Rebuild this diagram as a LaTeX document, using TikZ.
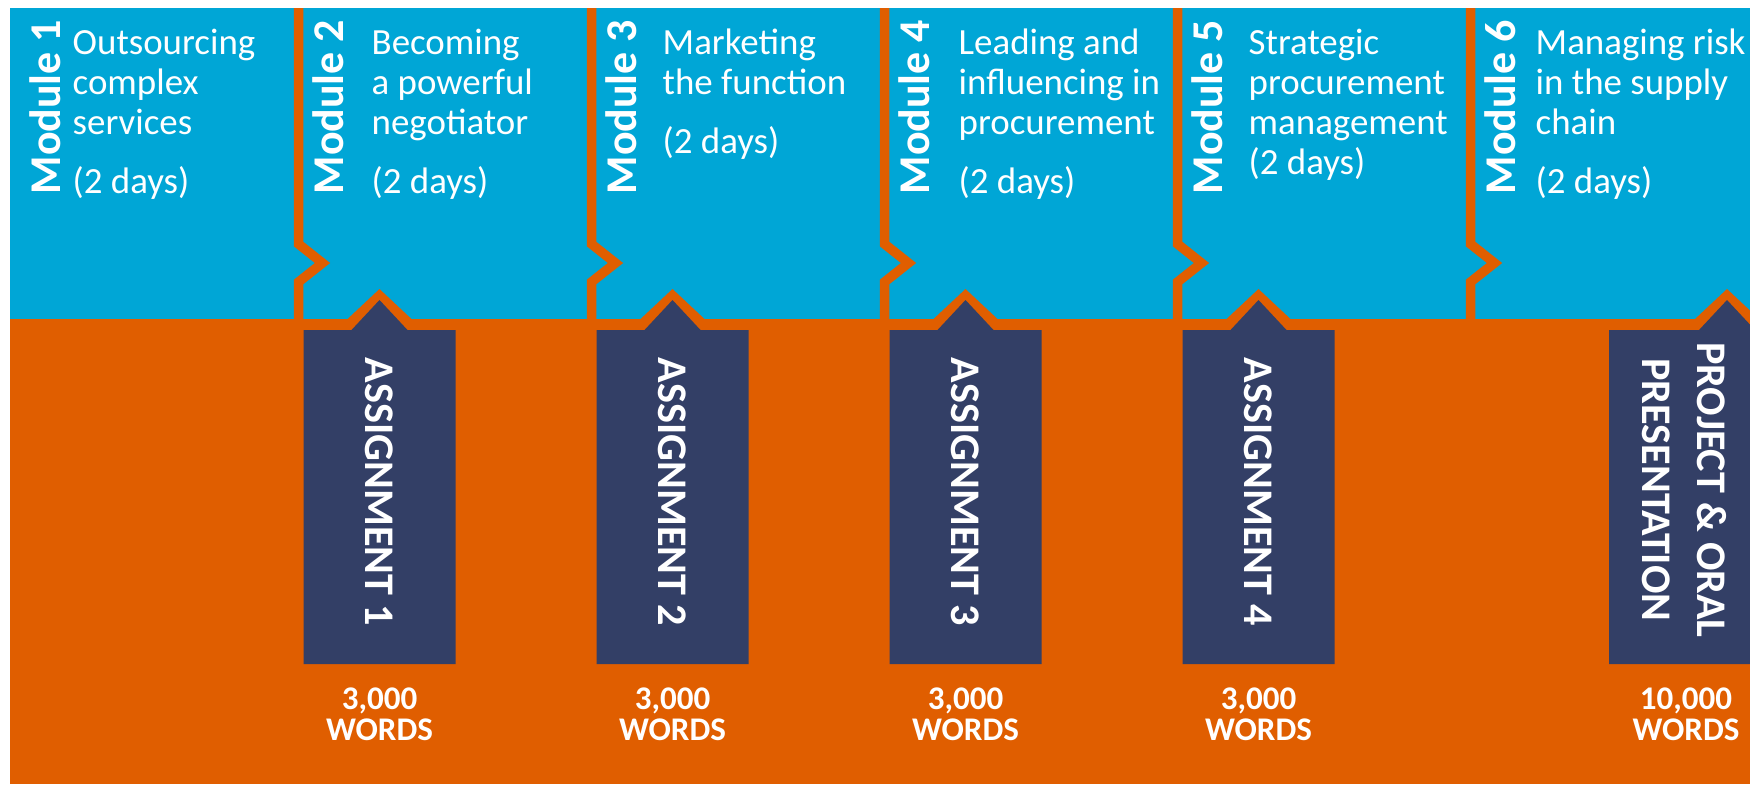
\documentclass[tikz,border=0pt]{standalone}
\usepackage{fontspec}
\setmainfont{Carlito}
\definecolor{modblue}{HTML}{00A6D6}
\definecolor{modorange}{HTML}{E05E00}
\definecolor{asgnavy}{HTML}{333F66}

\begin{document}
\begin{tikzpicture}[
    modlabel/.style={rotate=90, anchor=west, inner sep=0, text=white,
      font=\fontsize{12.5}{14}\selectfont\bfseries},
    modtext/.style={anchor=north west, inner sep=0, align=left, text=white,
      font=\fontsize{10.5}{11.4}\selectfont},
    asglabel/.style={rotate=-90, inner sep=0, align=center, text=white,
      font=\fontsize{12}{15.6}\selectfont\bfseries},
    words/.style={inner sep=0, align=center, text=white,
      font=\fontsize{9.4}{8.8}\selectfont\bfseries},
    divider/.style={modorange, line width=2.7pt, line join=miter}
  ]
  \useasboundingbox (0,0) rectangle (17.5,7.84);
  \clip (0,0) rectangle (17.5,7.84);

  % Bands
  \fill[modblue] (0.10,4.65) rectangle (17.5,7.76);
  \fill[modorange] (0.10,0) rectangle (17.5,4.65);

  % Dividers (notched)
  \draw[divider] (2.985,7.76) -- ++(0,-2.36) -- ++(0.24,-0.19) -- ++(-0.24,-0.19) -- (2.985,4.65);
  \draw[divider] (5.915,7.76) -- ++(0,-2.36) -- ++(0.24,-0.19) -- ++(-0.24,-0.19) -- (5.915,4.65);
  \draw[divider] (8.845,7.76) -- ++(0,-2.36) -- ++(0.24,-0.19) -- ++(-0.24,-0.19) -- (8.845,4.65);
  \draw[divider] (11.775,7.76) -- ++(0,-2.36) -- ++(0.24,-0.19) -- ++(-0.24,-0.19) -- (11.775,4.65);
  \draw[divider] (14.705,7.76) -- ++(0,-2.36) -- ++(0.24,-0.19) -- ++(-0.24,-0.19) -- (14.705,4.65);

  % Modules
  \node[modlabel] (m1) at (0.45,5.89) {Module 1};
  \node[modtext] (t1) at (0.72,7.56) {Outsourcing\\complex\\services\\[5.4pt](2 days)};
  \node[modlabel] (m2) at (3.285,5.89) {Module 2};
  \node[modtext] (t2) at (3.71,7.56) {Becoming\\a powerful\\negotiator\\[5.4pt](2 days)};
  \node[modlabel] (m3) at (6.215,5.89) {Module 3};
  \node[modtext] (t3) at (6.62,7.56) {Marketing\\the function\\[5.4pt](2 days)};
  \node[modlabel] (m4) at (9.145,5.89) {Module 4};
  \node[modtext] (t4) at (9.58,7.56) {Leading and\\influencing in\\procurement\\[5.4pt](2 days)};
  \node[modlabel] (m5) at (12.075,5.89) {Module 5};
  \node[modtext] (t5) at (12.48,7.56) {Strategic\\procurement\\management\\(2 days)};
  \node[modlabel] (m6) at (15.005,5.89) {Module 6};
  \node[modtext] (t6) at (15.35,7.56) {Managing risk\\in the supply\\chain\\[5.4pt](2 days)};

  % Assignments (boxes with roof)
  \fill[modorange] (3.475,4.65) -- ++(0.32,0.30) -- ++(0.32,-0.30) -- cycle;
  \fill[asgnavy] (3.035,1.20) -- ++(0,3.34) -- ++(0.48,0) -- ++(0.28,0.30) -- ++(0.28,-0.30) -- ++(0.48,0) -- ++(0,-3.34) -- cycle;
  \node[asglabel] (a1) at (3.795,2.92) {ASSIGNMENT 1};
  \node[words] (w1) at (3.795,0.695) {3,000\\WORDS};

  \fill[modorange] (6.405,4.65) -- ++(0.32,0.30) -- ++(0.32,-0.30) -- cycle;
  \fill[asgnavy] (5.965,1.20) -- ++(0,3.34) -- ++(0.48,0) -- ++(0.28,0.30) -- ++(0.28,-0.30) -- ++(0.48,0) -- ++(0,-3.34) -- cycle;
  \node[asglabel] (a2) at (6.725,2.92) {ASSIGNMENT 2};
  \node[words] (w2) at (6.725,0.695) {3,000\\WORDS};

  \fill[modorange] (9.335,4.65) -- ++(0.32,0.30) -- ++(0.32,-0.30) -- cycle;
  \fill[asgnavy] (8.895,1.20) -- ++(0,3.34) -- ++(0.48,0) -- ++(0.28,0.30) -- ++(0.28,-0.30) -- ++(0.48,0) -- ++(0,-3.34) -- cycle;
  \node[asglabel] (a3) at (9.655,2.92) {ASSIGNMENT 3};
  \node[words] (w3) at (9.655,0.695) {3,000\\WORDS};

  \fill[modorange] (12.265,4.65) -- ++(0.32,0.30) -- ++(0.32,-0.30) -- cycle;
  \fill[asgnavy] (11.825,1.20) -- ++(0,3.34) -- ++(0.48,0) -- ++(0.28,0.30) -- ++(0.28,-0.30) -- ++(0.48,0) -- ++(0,-3.34) -- cycle;
  \node[asglabel] (a4) at (12.585,2.92) {ASSIGNMENT 4};
  \node[words] (w4) at (12.585,0.695) {3,000\\WORDS};

  % Project (runs off the right edge)
  \fill[modorange] (16.95,4.65) -- ++(0.32,0.30) -- ++(0.32,-0.30) -- cycle;
  \fill[asgnavy] (16.09,1.20) -- ++(0,3.34) -- ++(0.90,0) -- ++(0.28,0.30) -- ++(0.28,-0.30) -- ++(1.0,0) -- ++(0,-3.34) -- cycle;
  \node[asglabel] (proj) at (16.84,2.94) {PROJECT \& ORAL\\PRESENTATION};
  \node[words] (w5) at (16.86,0.695) {10,000\\WORDS};
\end{tikzpicture}
\end{document}
